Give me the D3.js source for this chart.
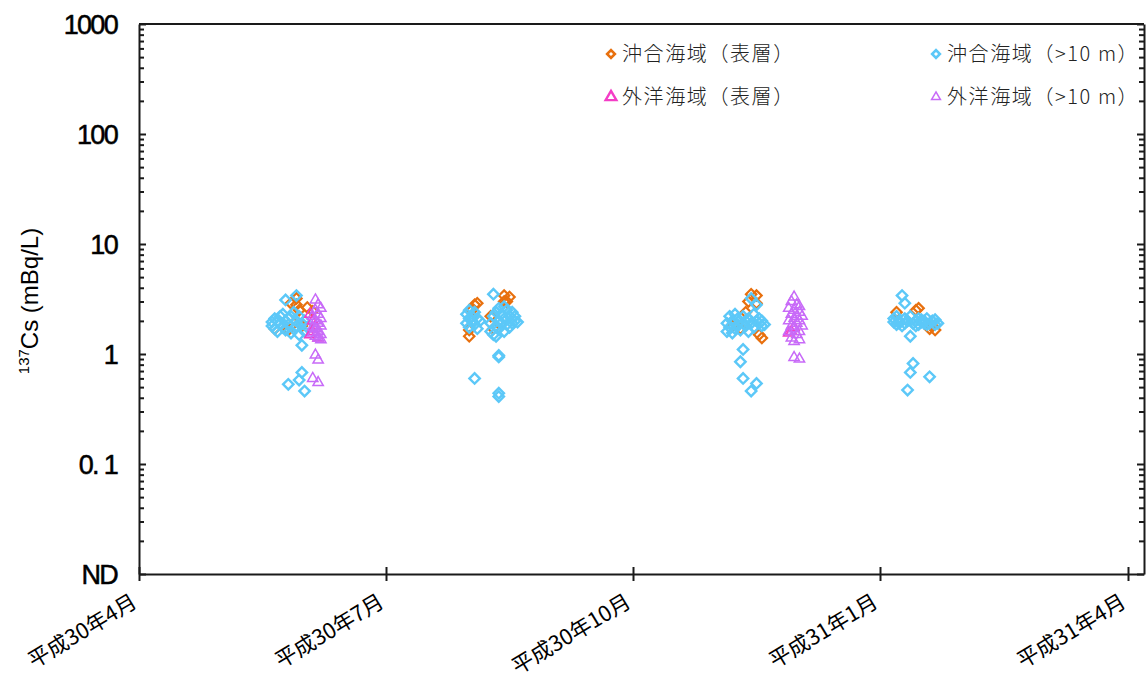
<!DOCTYPE html>
<html><head><meta charset="utf-8">
<script src="https://cdn.jsdelivr.net/npm/d3@7"></script>
<style>body{margin:0;background:#fff;} svg{display:block}</style>
</head><body><svg id="c" width="1146" height="682"></svg>
<script>
// ---------- data ----------
const seriesNames = ["沖合海域（表層）", "沖合海域（>10 m）", "外洋海域（表層）", "外洋海域（>10 m）"];
const xTickDates = ["2018-04-01", "2018-07-01", "2018-10-01", "2019-01-01", "2019-04-01"];
const xTickLabels = ["平成30年4月", "平成30年7月", "平成30年10月", "平成31年1月", "平成31年4月"];
const yTickValues = [0.01, 0.1, 1, 10, 100, 1000];
const yTickLabels = ["ND", "0. 1", "1", "10", "100", "1000"];

// 沖合海域（表層）
const offshoreSurface = [
  ["2018-05-21",1.7],["2018-05-26",1.65],["2018-05-27",2.9],["2018-05-28",1.9],["2018-05-29",3.2],["2018-05-29",2.8],
  ["2018-05-30",2.5],["2018-05-31",1.8],["2018-06-02",2.65],["2018-06-04",2.45],
  ["2018-08-01",1.45],["2018-08-01",1.65],["2018-08-02",2.5],["2018-08-03",2.8],["2018-08-04",2.9],["2018-08-09",2.2],
  ["2018-08-10",1.7],["2018-08-14",3.4],["2018-08-14",3.0],["2018-08-15",3.0],["2018-08-16",3.3],
  ["2018-11-07",1.8],["2018-11-10",1.7],["2018-11-12",2.4],["2018-11-13",3.0],["2018-11-14",3.5],["2018-11-16",3.4],
  ["2018-11-16",2.9],["2018-11-17",1.5],["2018-11-18",1.4],
  ["2019-01-07",2.4],["2019-01-14",2.5],["2019-01-15",2.6],["2019-01-19",1.7],["2019-01-20",1.8],["2019-01-21",1.65]
];
// 沖合海域（>10 m）
const offshoreDeep = [
  ["2018-05-20",1.95],["2018-05-20",1.8],["2018-05-21",2.1],["2018-05-21",1.7],["2018-05-22",2.0],["2018-05-22",1.6],
  ["2018-05-23",2.2],["2018-05-23",1.9],["2018-05-24",2.3],["2018-05-24",1.75],["2018-05-25",3.1],["2018-05-25",2.0],
  ["2018-05-25",1.65],["2018-05-26",2.1],["2018-05-26",1.85],["2018-05-26",0.53],["2018-05-27",2.2],["2018-05-27",1.55],
  ["2018-05-28",2.4],["2018-05-28",1.7],["2018-05-29",3.4],["2018-05-29",2.0],["2018-05-29",1.8],["2018-05-30",2.2],
  ["2018-05-30",1.5],["2018-05-30",0.58],["2018-05-31",1.9],["2018-05-31",1.2],["2018-05-31",0.68],["2018-06-01",2.0],
  ["2018-06-01",1.6],["2018-06-01",0.46],["2018-06-02",1.75],
  ["2018-07-31",2.3],["2018-07-31",1.9],["2018-08-01",2.1],["2018-08-01",1.75],["2018-08-01",2.5],["2018-08-02",2.0],
  ["2018-08-02",2.2],["2018-08-03",1.85],["2018-08-03",2.4],["2018-08-03",0.6],["2018-08-04",2.1],["2018-08-04",1.7],
  ["2018-08-05",2.0],["2018-08-09",1.9],["2018-08-09",1.6],["2018-08-10",3.5],["2018-08-10",2.2],["2018-08-10",1.5],
  ["2018-08-11",2.4],["2018-08-11",1.8],["2018-08-11",1.45],["2018-08-12",2.6],["2018-08-12",2.0],["2018-08-12",1.7],
  ["2018-08-12",0.97],["2018-08-12",0.94],["2018-08-12",0.44],["2018-08-12",0.41],["2018-08-13",2.3],["2018-08-13",1.9],
  ["2018-08-14",2.7],["2018-08-14",2.1],["2018-08-14",1.6],["2018-08-15",2.5],["2018-08-15",1.85],["2018-08-16",2.2],
  ["2018-08-16",1.75],["2018-08-17",2.4],["2018-08-17",1.9],["2018-08-18",2.0],["2018-08-18",2.2],["2018-08-19",1.95],
  ["2018-11-05",1.9],["2018-11-05",1.6],["2018-11-06",2.2],["2018-11-06",1.75],["2018-11-07",2.0],["2018-11-07",1.55],
  ["2018-11-08",1.7],["2018-11-08",2.3],["2018-11-09",1.85],["2018-11-09",2.1],["2018-11-10",1.65],["2018-11-10",0.85],
  ["2018-11-11",1.9],["2018-11-11",2.2],["2018-11-11",1.1],["2018-11-11",0.6],["2018-11-12",1.8],["2018-11-12",2.0],
  ["2018-11-13",2.1],["2018-11-13",1.6],["2018-11-14",3.2],["2018-11-14",1.9],["2018-11-14",0.46],["2018-11-15",2.3],
  ["2018-11-15",1.75],["2018-11-16",2.8],["2018-11-16",2.0],["2018-11-16",0.54],["2018-11-17",1.9],["2018-11-17",2.1],
  ["2018-11-18",1.8],["2018-11-18",2.0],["2018-11-19",1.85],
  ["2019-01-06",1.95],["2019-01-06",2.1],["2019-01-07",1.85],["2019-01-07",2.2],["2019-01-08",2.0],["2019-01-08",1.9],
  ["2019-01-09",3.4],["2019-01-09",1.8],["2019-01-10",2.9],["2019-01-10",2.1],["2019-01-10",1.9],["2019-01-11",2.0],
  ["2019-01-11",0.47],["2019-01-12",1.45],["2019-01-12",0.68],["2019-01-12",2.2],["2019-01-13",1.9],["2019-01-13",0.82],
  ["2019-01-14",2.0],["2019-01-14",1.8],["2019-01-15",2.1],["2019-01-15",1.85],["2019-01-16",1.95],["2019-01-16",2.05],
  ["2019-01-17",1.9],["2019-01-17",2.0],["2019-01-18",2.1],["2019-01-18",1.85],["2019-01-19",1.9],["2019-01-19",0.62],
  ["2019-01-20",2.0],["2019-01-21",1.85],["2019-01-21",2.05],["2019-01-22",1.9]
];
// 外洋海域（表層）
const outerSurface = [
  ["2018-06-03",2.3],["2018-06-03",1.5],["2018-06-04",2.0],["2018-06-04",1.6],["2018-06-05",1.8],["2018-06-06",1.4],
  ["2018-11-28",1.55],["2018-11-29",1.6],["2018-11-30",1.75]
];
// 外洋海域（>10 m）
const outerDeep = [
  ["2018-06-04",2.2],["2018-06-04",1.75],["2018-06-04",1.55],["2018-06-04",0.6],["2018-06-05",3.1],["2018-06-05",2.5],
  ["2018-06-05",2.0],["2018-06-05",1.7],["2018-06-05",1.45],["2018-06-05",0.98],["2018-06-06",2.8],["2018-06-06",2.3],
  ["2018-06-06",1.9],["2018-06-06",1.6],["2018-06-06",1.4],["2018-06-06",0.88],["2018-06-06",0.55],["2018-06-07",2.6],
  ["2018-06-07",2.1],["2018-06-07",1.8],["2018-06-07",1.5],["2018-06-07",1.35],
  ["2018-11-28",2.6],["2018-11-28",2.0],["2018-11-28",1.6],["2018-11-29",3.0],["2018-11-29",2.3],["2018-11-29",1.8],
  ["2018-11-29",1.4],["2018-11-30",0.93],["2018-11-30",3.3],["2018-11-30",2.5],["2018-11-30",2.1],["2018-11-30",1.7],
  ["2018-11-30",1.3],["2018-12-01",2.8],["2018-12-01",2.2],["2018-12-01",1.9],["2018-12-01",1.5],["2018-12-02",0.9],
  ["2018-12-02",2.7],["2018-12-02",2.4],["2018-12-02",2.0],["2018-12-02",1.6],["2018-12-02",1.35],["2018-12-03",2.2],
  ["2018-12-03",1.8]
];

// ---------- chart ----------
const parse = d3.timeParse("%Y-%m-%d");
const svg = d3.select("#c");
const L = 139, R = 1144, T = 24, B = 574;

const x = d3.scaleTime()
  .domain(["2018-04-01","2018-07-01","2018-10-01","2019-01-01","2019-04-01","2019-04-07"].map(parse))
  .range([L, 386, 633, 880, 1128, R]);
const y = d3.scaleLog().domain([0.01, 1000]).range([B, T]);

const minorTicks = [];
for (let e = -2; e < 3; e++) for (let k = 2; k <= 9; k++) minorTicks.push(k * Math.pow(10, e));

const axisColor = "#1a1a1a";

// frame: top
svg.append("line").attr("x1", L).attr("x2", R).attr("y1", T).attr("y2", T)
  .attr("stroke", axisColor).attr("stroke-width", 2);

// left axis
const gL = svg.append("g").attr("transform", `translate(${L},0)`)
  .call(d3.axisLeft(y).tickValues(yTickValues).tickFormat((d, i) => yTickLabels[i])
    .tickSize(-7).tickSizeOuter(0).tickPadding(22));
gL.selectAll("text").attr("font-family", "Liberation Sans, Arial, sans-serif")
  .attr("font-size", 27).attr("letter-spacing", -1.7).attr("fill", "#000")
  .attr("stroke", "#000").attr("stroke-width", 0.5).attr("dy", "0.36em");
const gLm = svg.append("g").attr("transform", `translate(${L},0)`)
  .call(d3.axisLeft(y).tickValues(minorTicks).tickFormat("").tickSize(-5).tickSizeOuter(0));
gLm.select(".domain").remove();

// right axis
const gR = svg.append("g").attr("transform", `translate(${R},0)`)
  .call(d3.axisRight(y).tickValues(yTickValues).tickFormat("").tickSize(-7).tickSizeOuter(0));
const gRm = svg.append("g").attr("transform", `translate(${R},0)`)
  .call(d3.axisRight(y).tickValues(minorTicks).tickFormat("").tickSize(-5).tickSizeOuter(0));
gRm.select(".domain").remove();

// bottom axis
const gB = svg.append("g").attr("transform", `translate(0,${B})`)
  .call(d3.axisBottom(x).tickValues(xTickDates.map(parse)).tickFormat((d, i) => xTickLabels[i])
    .tickSize(7).tickSizeOuter(0));
gB.selectAll(".tick line").attr("y1", -7).attr("y2", 7);
gB.selectAll(".tick text")
  .attr("x", 0).attr("y", 0).attr("dy", 0)
  .attr("transform", "translate(-1,32) rotate(-31)")
  .attr("text-anchor", "end")
  .attr("font-family", "Noto Sans CJK JP, sans-serif").attr("font-size", 21.5).attr("fill", "#000");

svg.selectAll(".domain, .tick line").attr("stroke", axisColor).attr("stroke-width", 2);

// y title
const yt = svg.append("text").attr("transform", "translate(38,301) rotate(-90)")
  .attr("text-anchor", "middle").attr("font-family", "Liberation Sans, Arial, sans-serif")
  .attr("font-size", 24).attr("fill", "#000");
yt.append("tspan").attr("font-size", 15).attr("dy", -9).text("137");
yt.append("tspan").attr("dy", 9).text("Cs  (mBq/L)");

// markers
const diamond = d3.symbol().type(d3.symbolSquare).size(54)();
const triangle = d3.symbol().type(d3.symbolTriangle).size(46)();

const series = [
  {data: offshoreSurface, color: "#E8700E", path: diamond, rot: 45, sw: 2.2},
  {data: offshoreDeep, color: "#5CC8F8", path: diamond, rot: 45, sw: 2.4},
  {data: outerSurface, color: "#F43DC6", path: triangle, rot: 0, sw: 1.6},
  {data: outerDeep, color: "#C86AF8", path: triangle, rot: 0, sw: 1.5}
];

const plot = svg.append("g");
series.forEach(s => {
  plot.append("g").selectAll("path").data(s.data).join("path")
    .attr("d", s.path)
    .attr("transform", d => `translate(${x(parse(d[0]))},${y(d[1])}) rotate(${s.rot})`)
    .attr("fill", "none").attr("stroke", s.color).attr("stroke-width", s.sw);
});

// legend
const legendPos = [[611, 54], [936, 54], [611, 97], [936, 97]];
const legendSym = [
  d3.symbol().type(d3.symbolSquare).size(30)(),
  d3.symbol().type(d3.symbolSquare).size(30)(),
  d3.symbol().type(d3.symbolTriangle).size(50)(),
  d3.symbol().type(d3.symbolTriangle).size(34)()
];
const lg = svg.append("g");
seriesNames.forEach((name, i) => {
  const [lx, ly] = legendPos[i];
  lg.append("path").attr("d", legendSym[i])
    .attr("transform", `translate(${lx},${ly}) rotate(${i < 2 ? 45 : 0})`)
    .attr("fill", "none").attr("stroke", series[i].color).attr("stroke-width", i < 2 ? 2.6 : (i === 2 ? 2.4 : 1.5));
  lg.append("text").attr("x", lx + 11).attr("y", ly).attr("dy", "0.35em")
    .attr("font-family", "Noto Sans CJK JP, sans-serif").attr("font-size", 20)
    .attr("letter-spacing", 1.6)
    .attr("font-weight", 300).attr("fill", "#222").text(name);
});
</script>
</body></html>
